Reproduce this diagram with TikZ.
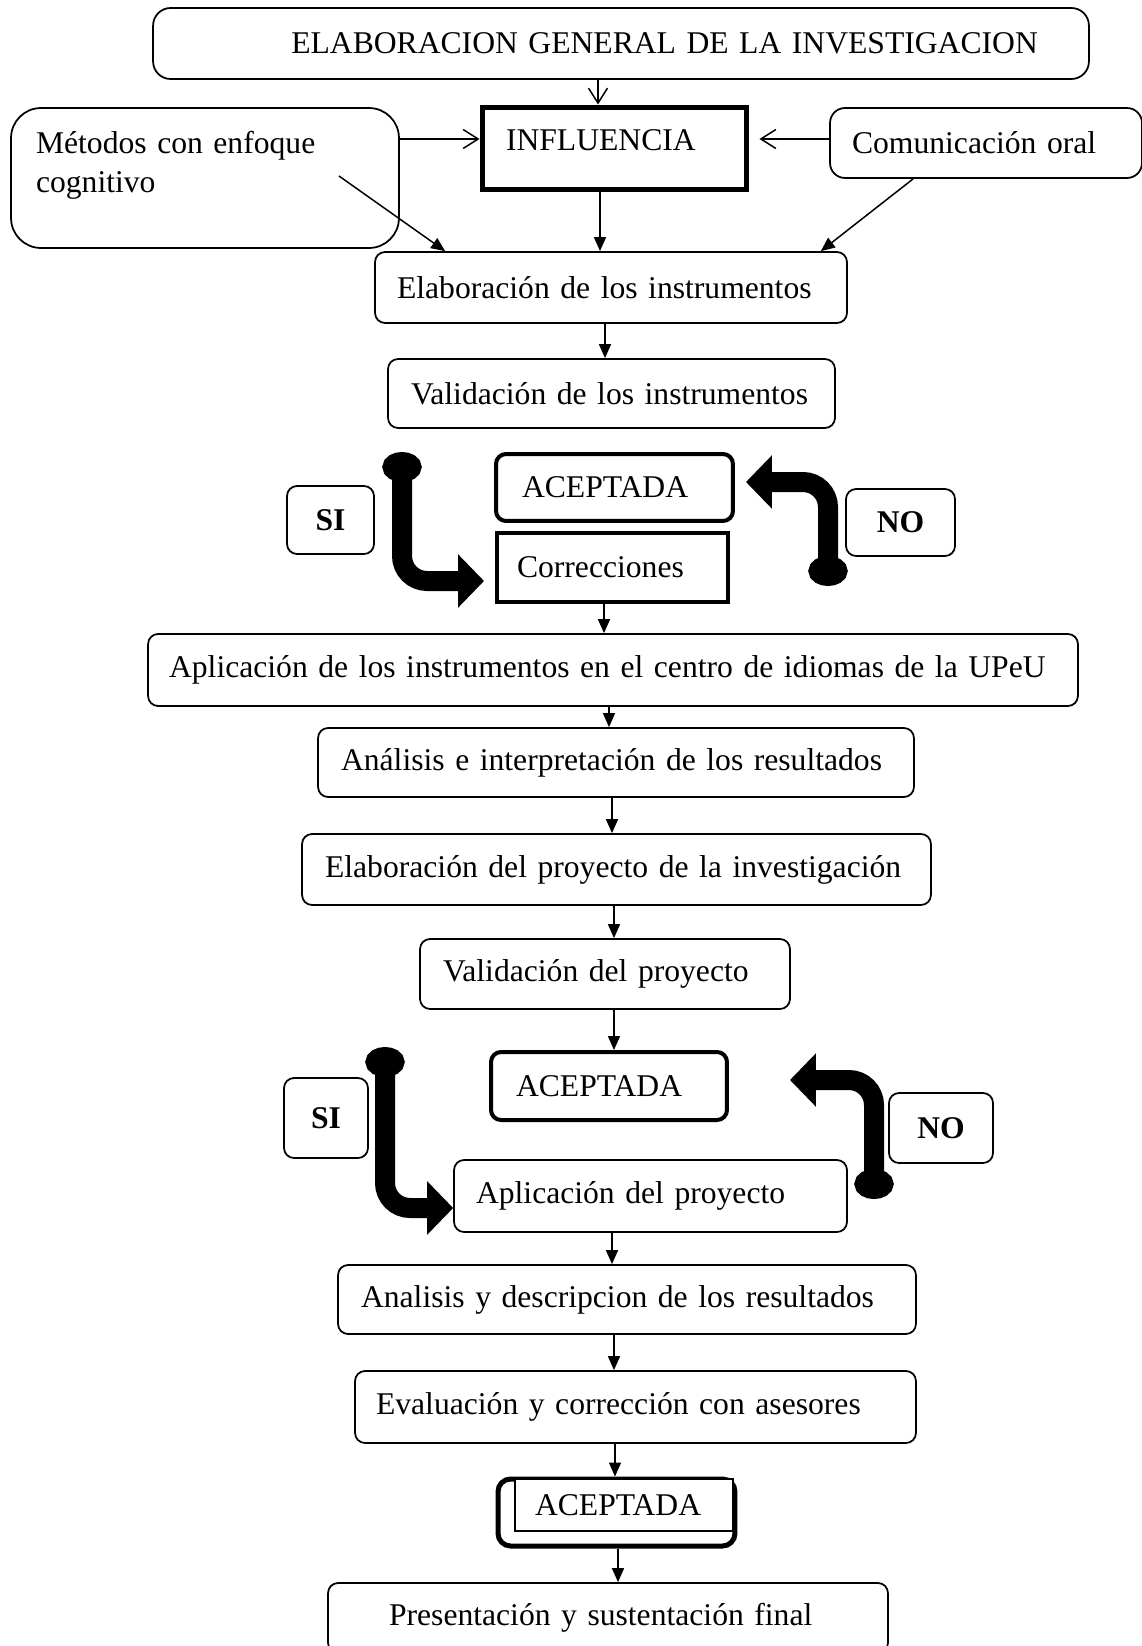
\documentclass[tikz,border=0pt]{standalone}
\usepackage{fontspec}
\setmainfont{Liberation Serif}
\usetikzlibrary{arrows.meta,positioning}

\begin{document}
\begin{tikzpicture}[x=0.02cm, y=-0.02cm,
  stage/.style={draw, line width=0.035cm, rounded corners=0.2cm, align=left, inner xsep=0.46cm, inner ysep=0pt, font=\fontsize{18}{22}\selectfont},
  keybox/.style={stage, line width=0.08cm},
  answer/.style={draw, line width=0.035cm, rounded corners=0.2cm, inner sep=0pt, font=\fontsize{18}{22}\selectfont\bfseries},
  flow/.style={line width=0.03cm, -{Triangle[length=0.28cm, width=0.24cm]}},
  feed/.style={line width=0.03cm, -{Straight Barb[length=0.3cm, width=0.38cm]}},
  bigturn/.style={line width=0.4cm, rounded corners=0.5cm, arrows={Circle[length=0.6cm, width=0.78cm]-Triangle[length=0.52cm, width=1.04cm]}}
]

\useasboundingbox (0,0) rectangle (1142,1646);
\clip (0,0) rectangle (1142,1646);

% Upper block
\node[stage, rounded corners=0.35cm, align=right, inner xsep=1.02cm, text width=16.68cm, minimum height=1.42cm] (gen) at (621,43.5) {ELABORACION GENERAL DE LA INVESTIGACION};
\node[keybox, line width=0.1cm, sharp corners, inner xsep=0.48cm, text width=4.34cm, minimum height=1.66cm, text depth=0.34cm] (influ) at (614.5,148.5) {INFLUENCIA};
\node[stage, rounded corners=0.6cm, inner xsep=0.5cm, text width=6.76cm, minimum height=2.8cm, text depth=1.42cm] (metodos) at (205,178) {Métodos con enfoque\\cognitivo};
\node[stage, rounded corners=0.3cm, inner xsep=0.44cm, text width=5.36cm, minimum height=1.4cm] (comunic) at (986,143) {Comunicación oral};
\node[stage, inner xsep=0.44cm, text width=8.56cm, minimum height=1.42cm] (elab) at (611,287.5) {Elaboración de los instrumentos};
\node[stage, text width=8.02cm, minimum height=1.38cm] (valid) at (611.5,393.5) {Validación de los instrumentos};

% First check
\node[keybox, inner xsep=0.52cm, text width=3.70cm, minimum height=1.34cm] (acep1) at (614.5,487.5) {ACEPTADA};
\node[keybox, sharp corners, inner xsep=0.4cm, text width=3.82cm, minimum height=1.38cm] (correc) at (612.5,567.5) {Correcciones};
\node[answer, minimum width=1.74cm, minimum height=1.36cm] (si1) at (330.5,520) {SI};
\node[answer, minimum width=2.18cm, minimum height=1.34cm] (no1) at (900.5,522.5) {NO};

% Middle block
\node[stage, inner xsep=0.42cm, text width=17.76cm, minimum height=1.44cm] (aplic1) at (613,670) {Aplicación de los instrumentos en el centro de idiomas de la UPeU};
\node[stage, text width=11.0cm, minimum height=1.38cm] (anal1) at (616,762.5) {Análisis e interpretación de los resultados};
\node[stage, text width=11.66cm, minimum height=1.42cm] (elabp) at (616.5,869.5) {Elaboración del proyecto de la investigación};
\node[stage, text width=6.48cm, minimum height=1.4cm] (validp) at (605,974) {Validación del proyecto};

% Second check
\node[keybox, inner xsep=0.5cm, text width=3.72cm, minimum height=1.36cm] (acep2) at (609,1086) {ACEPTADA};
\node[answer, minimum width=1.68cm, minimum height=1.6cm] (si2) at (326,1118) {SI};
\node[answer, minimum width=2.08cm, minimum height=1.4cm] (no2) at (941,1128) {NO};
\node[stage, inner xsep=0.44cm, text width=6.98cm, minimum height=1.44cm] (aplic2) at (650.5,1196) {Aplicación del proyecto};

% Lower block
\node[stage, text width=10.64cm, minimum height=1.38cm] (anal2) at (627,1299.5) {Analisis y descripcion de los resultados};
\node[stage, inner xsep=0.42cm, text width=10.38cm, minimum height=1.44cm] (evalu) at (635.5,1407) {Evaluación y corrección con asesores};
\node[keybox, line width=0.1cm, rounded corners=0.25cm, minimum width=4.74cm, minimum height=1.34cm] (acep3) at (616.5,1512.5) {};
\node[stage, sharp corners, line width=0.025cm, fill=white, inner xsep=0.4cm, text width=3.56cm, minimum height=1.04cm] (acep3txt) at (624,1505) {ACEPTADA};
\node[stage, inner xsep=1.22cm, text width=8.76cm, minimum height=1.4cm] (pres) at (608,1618) {Presentación y sustentación final};

% Influences
\draw[feed] (gen.south -| 598,0) -- (influ.north -| 598,0);
\draw[feed] (metodos.east |- 0,139) -- (influ.west |- 0,139);
\draw[feed, shorten >=0.2cm] (comunic.west |- 0,139) -- (influ.east |- 0,139);
\draw[flow] (influ.south -| 600,0) -- (elab.north -| 600,0);
\draw[flow] ([shift={(2.68cm,0.04cm)}]metodos.center) -- ([xshift=1.42cm]elab.north west);
\draw[flow] ([xshift=1.68cm]comunic.south west) -- ([xshift=-0.54cm]elab.north east);

% Main sequence
\draw[flow] (elab.south -| 605,0) -- (valid.north -| 605,0);
\draw[flow] (correc.south -| 604,0) -- (aplic1.north -| 604,0);
\draw[flow] (aplic1.south -| 609,0) -- (anal1.north -| 609,0);
\draw[flow] (anal1.south -| 612,0) -- (elabp.north -| 612,0);
\draw[flow] (elabp.south -| 614,0) -- (validp.north -| 614,0);
\draw[flow] (validp.south -| 614,0) -- (acep2.north -| 614,0);
\draw[flow] (aplic2.south -| 612,0) -- (anal2.north -| 612,0);
\draw[flow] (anal2.south -| 614,0) -- (evalu.north -| 614,0);
\draw[flow] (evalu.south -| 615,0) -- (acep3.north -| 615,0);
\draw[flow] (acep3.south -| 618,0) -- (pres.north -| 618,0);

% Yes / no turns
\coordinate (si1start) at (402,452);
\draw[bigturn] (si1start) |- ([shift={(-0.22cm,-0.27cm)}]correc.west);
\coordinate (no1start) at (828,586);
\draw[bigturn] (no1start) |- ([shift={(0.22cm,0.11cm)}]acep1.east);
\coordinate (si2start) at (385,1047);
\draw[bigturn] (si2start) |- ([yshift=-0.24cm]aplic2.west);
\coordinate (no2start) at (874,1199);
\draw[bigturn] (no2start) |- ([shift={(1.22cm,0.12cm)}]acep2.east);

\end{tikzpicture}
\end{document}
